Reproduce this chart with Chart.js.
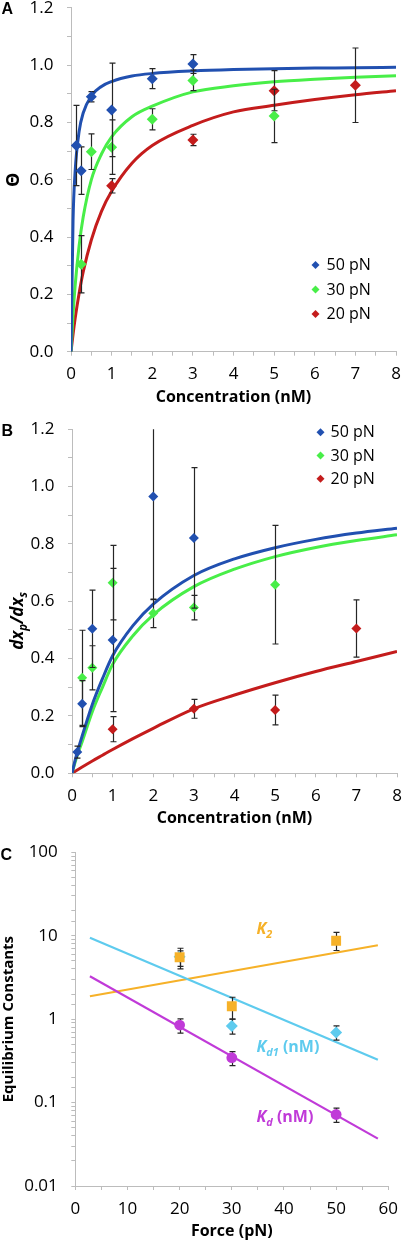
<!DOCTYPE html>
<html><head><meta charset="utf-8">
<script src="https://cdn.jsdelivr.net/npm/chart.js@4.4.1/dist/chart.umd.min.js"></script>
<style>
html,body{margin:0;padding:0;background:#fff;}
#wrap{position:relative;width:402px;height:1240px;overflow:hidden;background:#fff;}
canvas{position:absolute;left:0;top:0;}
</style></head><body><div id="wrap">
<canvas id="cA" width="402" height="1240"></canvas>
<canvas id="cB" width="402" height="1240"></canvas>
<canvas id="cC" width="402" height="1240"></canvas>
</div>
<script>
// ---------- Panel A : Θ vs concentration ----------
const aX50 = [0.13, 0.25, 0.5, 1, 2, 3];
const aY50 = [0.72, 0.632, 0.89, 0.844, 0.953, 1.004];
const aE50 = [0.14, 0.083, 0.018, 0.163, 0.035, 0.033];
const aX30 = [0.25, 0.5, 1, 2, 3, 5];
const aY30 = [0.305, 0.698, 0.714, 0.811, 0.947, 0.823];
const aE30 = [0.10, 0.062, 0.095, 0.037, 0.036, 0.093];
const aX20 = [1, 3, 5, 7];
const aY20 = [0.579, 0.739, 0.911, 0.93];
const aE20 = [0.025, 0.02, 0.07, 0.13];
const aFitX  = [0, 0.05, 0.1, 0.2, 0.3, 0.5, 0.75, 1, 1.5, 2, 3, 4, 5, 6, 7, 8];
const aFit50 = [0, 0.455, 0.625, 0.769, 0.833, 0.893, 0.926, 0.943, 0.962, 0.971, 0.980, 0.985, 0.988, 0.990, 0.991, 0.993];
const aFit30 = [0, 0.128, 0.227, 0.37, 0.47, 0.60, 0.69, 0.75, 0.82, 0.857, 0.907, 0.928, 0.942, 0.951, 0.958, 0.963];
const aFit20 = [0, 0.06, 0.114, 0.204, 0.278, 0.39, 0.49, 0.56, 0.658, 0.72, 0.79, 0.837, 0.86, 0.88, 0.897, 0.911];

// ---------- Panel B : dxp/dxs vs concentration ----------
const bX50 = [0.13, 0.25, 0.5, 1, 2, 3];
const bY50 = [0.074, 0.243, 0.504, 0.465, 0.966, 0.821];
const bE50 = [0.021, 0.08, 0.135, 0.25, 0.36, 0.245];
const bX30 = [0.25, 0.5, 1, 2, 3, 5];
const bY30 = [0.333, 0.368, 0.665, 0.558, 0.578, 0.658];
const bE30 = [0.166, 0.077, 0.13, 0.05, 0.043, 0.207];
const bX20 = [1, 3, 5, 7];
const bY20 = [0.154, 0.225, 0.221, 0.505];
const bE20 = [0.044, 0.033, 0.052, 0.10];
const bFitX  = [0, 0.1, 0.25, 0.5, 0.75, 1, 1.5, 2, 3, 4, 5, 6, 7, 8];
const bFit50 = [0, 0.058, 0.13, 0.24, 0.33, 0.41, 0.515, 0.59, 0.69, 0.748, 0.787, 0.816, 0.838, 0.855];
const bFit30 = [0, 0.05, 0.11, 0.215, 0.30, 0.38, 0.48, 0.553, 0.651, 0.712, 0.756, 0.788, 0.812, 0.832];
const bFit20 = [0, 0.009, 0.022, 0.043, 0.063, 0.083, 0.121, 0.157, 0.225, 0.273, 0.316, 0.355, 0.39, 0.425];

// ---------- Panel C : equilibrium constants vs force ----------
const cForce  = [20, 30, 50];
const cK2     = [5.53, 1.43, 8.69];
const cK2Hi   = [7.08, 1.83, 10.97];
const cK2Lo   = [4.0, 1.0, 6.65];
const cKd1    = [5.6, 0.83, 0.69];
const cKd1Hi  = [6.6, 1.0, 0.83];
const cKd1Lo  = [4.3, 0.66, 0.56];
const cKd     = [0.85, 0.345, 0.072];
const cKdHi   = [1.01, 0.407, 0.086];
const cKdLo   = [0.68, 0.277, 0.058];
const cFitX   = [2.8, 58];
const cFitK2  = [1.88, 7.69];
const cFitKd1 = [9.44, 0.327];
const cFitKd  = [3.27, 0.037];

// ---------- labels ----------
const seriesLabels = ['50 pN', '30 pN', '20 pN'];
const cYLabels = ['0.01', '0.1', '1', '10', '100'];
const panelLetters = ['A', 'B', 'C'];

const FONT = '"Open Sans", sans-serif';
const COL = {blue:'#2150b0', green:'#48ee48', red:'#c41c1c', orange:'#f6b128', cyan:'#5ecbee', magenta:'#c03ad8', axis:'#bcbcbc', err:'#262626'};

const pts = (xs, ys) => xs.map((x, i) => ({x, y: ys[i]}));
const plus = (ys, es) => ys.map((y, i) => y + es[i]);
const minus = (ys, es) => ys.map((y, i) => y - es[i]);

function drawRich(ctx, o) {
  ctx.save();
  ctx.translate(o.x, o.y);
  if (o.rotate) ctx.rotate(-Math.PI / 2);
  ctx.fillStyle = o.color || '#000';
  ctx.textBaseline = 'alphabetic';
  const fam = o.family || FONT;
  const fontOf = p => `${p.i ? 'italic ' : ''}${o.bold === false ? '' : 'bold '}${p.sub ? o.size * 0.68 : o.size}px ${fam}`;
  let w = 0;
  o.parts.forEach(p => { ctx.font = fontOf(p); w += ctx.measureText(p.t).width; });
  let cx = o.align === 'center' ? -w / 2 : 0;
  o.parts.forEach(p => {
    ctx.font = fontOf(p);
    ctx.fillText(p.t, cx, p.sub ? o.size * 0.28 : 0);
    cx += ctx.measureText(p.t).width;
  });
  ctx.restore();
}

const DECOR = {
  cA: {
    texts: [{x: 1.5, y: 14, parts: [{t: panelLetters[0]}], size: 16, family: '"Liberation Sans", Arial'}],
    legend: {mx: 315.5, tx: 326.5, y: 265, dy: 24.5, size: 16}
  },
  cB: {
    texts: [
      {x: 1.5, y: 436, parts: [{t: panelLetters[1]}], size: 16, family: '"Liberation Sans", Arial'},
      {x: 22.5, y: 621, rotate: true, align: 'center', size: 17, parts: [{t: 'dx', i: 1}, {t: 'p', i: 1, sub: 1}, {t: '/dx', i: 1}, {t: 's', i: 1, sub: 1}]}
    ],
    legend: {mx: 320.5, tx: 330.5, y: 432.3, dy: 23.2, size: 16}
  },
  cC: {
    texts: [
      {x: 0.5, y: 860, parts: [{t: panelLetters[2]}], size: 16, family: '"Liberation Sans", Arial'},
      {x: 256.5, y: 934, size: 16, color: COL.orange, parts: [{t: 'K', i: 1}, {t: '2', i: 1, sub: 1}]},
      {x: 256.5, y: 1052, size: 16, color: COL.cyan, parts: [{t: 'K', i: 1}, {t: 'd1', i: 1, sub: 1}, {t: ' (nM)'}]},
      {x: 256.5, y: 1122, size: 16, color: COL.magenta, parts: [{t: 'K', i: 1}, {t: 'd', i: 1, sub: 1}, {t: ' (nM)'}]}
    ]
  }
};

const decorPlugin = {
  id: 'decor',
  afterDraw(chart) {
    const cfg = DECOR[chart.canvas.id];
    if (!cfg) return;
    const ctx = chart.ctx;
    cfg.texts.forEach(t => drawRich(ctx, t));
    if (cfg.legend) {
      const L = cfg.legend;
      chart.data.datasets.filter(d => d.isSeries).forEach((d, i) => {
        const y = L.y + i * L.dy;
        ctx.save();
        ctx.fillStyle = d.backgroundColor;
        ctx.beginPath();
        const r = 4;
        ctx.moveTo(L.mx, y - r); ctx.lineTo(L.mx + r, y); ctx.lineTo(L.mx, y + r); ctx.lineTo(L.mx - r, y); ctx.closePath();
        ctx.fill();
        ctx.fillStyle = '#000';
        ctx.font = `${L.size}px ${FONT}`;
        ctx.textBaseline = 'middle';
        ctx.fillText(d.label, L.tx, y + 0.5);
        ctx.restore();
      });
    }
  }
};

const errorPlugin = {
  id: 'errbars',
  beforeDatasetDraw(chart, args) {
    const ds = chart.data.datasets[args.index];
    if (!ds.errHi) return;
    const {ctx, chartArea: ca} = chart;
    const xs = chart.scales.x, ys = chart.scales.y;
    ctx.save();
    ctx.beginPath();
    ctx.rect(ca.left - 5, ca.top, ca.right - ca.left + 10, ca.bottom - ca.top);
    ctx.clip();
    ctx.strokeStyle = COL.err;
    ctx.lineWidth = 1.2;
    ds.data.forEach((p, i) => {
      const x = Math.round(xs.getPixelForValue(p.x)) + 0.5;
      const y1 = ys.getPixelForValue(ds.errHi[i]);
      const y2 = ys.getPixelForValue(ds.errLo[i]);
      ctx.beginPath();
      ctx.moveTo(x, y1); ctx.lineTo(x, y2);
      ctx.moveTo(x - 3, y1); ctx.lineTo(x + 3, y1);
      ctx.moveTo(x - 3, y2); ctx.lineTo(x + 3, y2);
      ctx.stroke();
    });
    ctx.restore();
  }
};

function series(label, xs, ys, es, color, radius) {
  return {label, isSeries: true, data: pts(xs, ys), errHi: plus(ys, es), errLo: minus(ys, es),
    backgroundColor: color, borderColor: color, pointStyle: 'rectRot', pointRadius: radius, borderWidth: 0, showLine: false, order: 1};
}
function fit(xs, ys, color, width) {
  return {label: '', data: pts(xs, ys), borderColor: color, backgroundColor: color, borderWidth: width,
    pointRadius: 0, showLine: true, cubicInterpolationMode: 'monotone', fill: false, order: 2};
}

function axisCommon(extra) {
  return Object.assign({
    grid: {display: true, drawOnChartArea: false, drawTicks: true, tickLength: 4, color: COL.axis, lineWidth: 1},
    border: {display: true, color: COL.axis, width: 1}
  }, extra);
}
const tickFont = {family: FONT, size: 17};

function concChart(id, top, bottom, left, yTitleText, datasets) {
  const H = 1240;
  const xH = 55;
  return new Chart(document.getElementById(id), {
    type: 'scatter',
    data: {datasets},
    options: {
      responsive: false, animation: false, events: [],
      layout: {padding: {top: top, left: 0, right: 402 - (left + 325), bottom: H - bottom - xH}},
      plugins: {legend: {display: false}, tooltip: {enabled: false}},
      scales: {
        x: axisCommon({
          type: 'linear', min: 0, max: 8,
          afterFit: s => { s.height = xH; s.paddingLeft = 0; s.paddingRight = 0; },
          ticks: {stepSize: 0.5, autoSkip: false, maxRotation: 0, maxTicksLimit: 100, color: '#000', font: tickFont, padding: 8.5,
            callback: v => Number.isInteger(v) ? String(v) : ''},
          title: {display: true, text: 'Concentration (nM)', color: '#000', font: {family: FONT, size: 16, weight: 'bold'}, padding: {top: 0, bottom: 0}}
        }),
        y: axisCommon({
          type: 'linear', min: 0, max: 1.2,
          afterFit: s => { s.width = left; s.paddingTop = 0; s.paddingBottom = 0; },
          ticks: {stepSize: 0.1, autoSkip: false, maxTicksLimit: 100, color: '#000', font: tickFont, padding: 13.5,
            callback: v => (Math.round(v * 10) % 2 === 0) ? (Math.round(v * 10) / 10).toFixed(1) : ''},
          title: {display: !!yTitleText, text: yTitleText || '', color: '#000', font: {family: FONT, size: 18, weight: 'bold'}, padding: {top: 3.5, bottom: 0}}
        })
      }
    },
    plugins: [errorPlugin, decorPlugin]
  });
}

concChart('cA', 7.9, 351.7, 71, 'Θ', [
  series(seriesLabels[0], aX50, aY50, aE50, COL.blue, 5.5),
  series(seriesLabels[1], aX30, aY30, aE30, COL.green, 5.5),
  series(seriesLabels[2], aX20, aY20, aE20, COL.red, 5.5),
  fit(aFitX, aFit50, COL.blue, 3),
  fit(aFitX, aFit30, COL.green, 3),
  fit(aFitX, aFit20, COL.red, 3)
]);

concChart('cB', 429.3, 773.3, 72, '', [
  series(seriesLabels[0], bX50, bY50, bE50, COL.blue, 5),
  series(seriesLabels[1], bX30, bY30, bE30, COL.green, 5),
  series(seriesLabels[2], bX20, bY20, bE20, COL.red, 5),
  fit(bFitX, bFit50, COL.blue, 3),
  fit(bFitX, bFit30, COL.green, 3),
  fit(bFitX, bFit20, COL.red, 3)
]);

// Panel C
(function () {
  const top = 852.3, bottom = 1186, left = 75.3, right = 388.3, xH = 55;
  const cSeries = (label, ys, hi, lo, color, style, r) => ({label, data: pts(cForce, ys), errHi: hi, errLo: lo,
    backgroundColor: color, borderColor: color, pointStyle: style, pointRadius: r, borderWidth: 0, showLine: false, order: 1});
  new Chart(document.getElementById('cC'), {
    type: 'scatter',
    data: {datasets: [
      cSeries('Kd', cKd, cKdHi, cKdLo, COL.magenta, 'circle', 5.4),
      cSeries('K2', cK2, cK2Hi, cK2Lo, COL.orange, 'rect', 7),
      cSeries('Kd1', cKd1, cKd1Hi, cKd1Lo, COL.cyan, 'rectRot', 6),
      fit(cFitX, cFitKd, COL.magenta, 2.2),
      fit(cFitX, cFitKd1, COL.cyan, 2.2),
      fit(cFitX, cFitK2, COL.orange, 2.2)
    ]},
    options: {
      responsive: false, animation: false, events: [],
      layout: {padding: {top: top, left: 0, right: 402 - right, bottom: 1240 - bottom - xH}},
      plugins: {legend: {display: false}, tooltip: {enabled: false}},
      scales: {
        x: axisCommon({
          type: 'linear', min: 0, max: 60,
          afterFit: s => { s.height = xH; s.paddingLeft = 0; s.paddingRight = 0; },
          ticks: {stepSize: 5, autoSkip: false, maxRotation: 0, maxTicksLimit: 100, color: '#000', font: tickFont, padding: 8.5,
            callback: v => (v % 10 === 0) ? String(v) : ''},
          title: {display: true, text: 'Force (pN)', color: '#000', font: {family: FONT, size: 16, weight: 'bold'}, padding: {top: 0, bottom: 0}}
        }),
        y: axisCommon({
          type: 'logarithmic', min: 0.01, max: 100,
          afterFit: s => { s.width = left; s.paddingTop = 0; s.paddingBottom = 0; },
          ticks: {autoSkip: false, maxTicksLimit: 100, color: '#000', font: tickFont, padding: 13.5,
            callback: v => { const l = Math.log10(v); const r = Math.round(l); return Math.abs(l - r) < 1e-6 ? cYLabels[r + 2] : ''; }},
          title: {display: true, text: 'Equilibrium Constants', color: '#000', font: {family: FONT, size: 15, weight: 'bold'}, padding: {top: 0, bottom: 0}}
        })
      }
    },
    plugins: [errorPlugin, decorPlugin]
  });
})();
</script></body></html>
